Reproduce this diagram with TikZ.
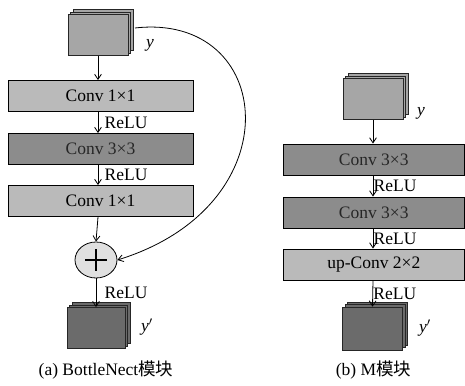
\documentclass[tikz,border=0pt]{standalone}
\usepackage{fontspec}
\setmainfont{Liberation Serif}
\newfontfamily\cjk{Noto Sans CJK SC}
\usepackage{tikz}
\usetikzlibrary{arrows.meta,positioning,shapes.geometric,shadows}

\begin{document}
\begin{tikzpicture}[
    x=1pt, y=-1pt,
    every node/.style={font=\fontsize{17.5}{20}\selectfont},
    lightbox/.style={rectangle, draw=black, line width=0.9pt, fill=black!27, minimum height=31pt, inner sep=0pt, align=center},
    darkbox/.style={rectangle, draw=black, line width=0.9pt, fill=black!45, minimum height=31pt, inner sep=0pt, align=center, text=black!85},
    fmap/.style={rectangle, draw=black!85, line width=0.8pt, inner sep=0pt, minimum width=60pt, minimum height=41pt,
        double copy shadow={shadow xshift=2.5pt, shadow yshift=2.5pt}},
    addop/.style={ellipse, draw=black, line width=0.8pt, fill=black!12, minimum width=42pt, minimum height=36pt, inner sep=0pt},
    arrow/.style={-{Straight Barb[length=1.8mm, width=2.4mm]}, line width=0.8pt}
]
\useasboundingbox (0,0) rectangle (465,385);

% (a) BottleNect
\node[fmap, fill=black!35] (yA) at (98, 35) {};
\node[lightbox, minimum width=185pt] (convA1) at (100.5, 96) {Conv 1×1};
\node[darkbox, minimum width=185pt] (convA2) at (100.5, 149) {Conv 3×3};
\node[lightbox, minimum width=185pt] (convA3) at (100.5, 201) {Conv 1×1};
\node[addop] (add) at (96, 260) {};
\node[fmap, fill=black!58, minimum width=58pt] (outA) at (96, 328) {};
\node (yAlab) at (150, 45) {\textit{y}};
\node (outAlab) at (147, 327) {\textit{y}$'$};
\node (capA) at (106, 370) {(a) BottleNect{\cjk 模块}};

\draw[line width=2.2pt] (add.center) ++(-11,0) -- ++(22,0);
\draw[line width=2.2pt] (add.center) ++(0,-11) -- ++(0,22);

\draw[arrow] (yA.south) -- (yA.south |- convA1.north);
\draw[arrow] (yA.south |- convA1.south) -- node[right, xshift=3pt] {ReLU} (yA.south |- convA2.north);
\draw[arrow] (yA.south |- convA2.south) -- node[right, xshift=3pt] {ReLU} (yA.south |- convA3.north);
\draw[arrow] (yA.south |- convA3.south) -- (add.north);
\draw[arrow] (add.south) -- node[right, xshift=5pt] {ReLU} (outA.north);
\draw[arrow] (135, 28) .. controls (275, 12) and (295, 205) .. (add.east);

% (b) M
\node[fmap, fill=black!35] (yB) at (373, 99) {};
\node[darkbox, minimum width=181.5pt] (convB1) at (373.75, 159.5) {Conv 3×3};
\node[darkbox, minimum width=181.5pt] (convB2) at (373.75, 212.5) {Conv 3×3};
\node[lightbox, minimum width=181.5pt] (convB3) at (373.75, 264.5) {up-Conv 2×2};
\node[fmap, fill=black!58, minimum height=43pt] (outB) at (372.5, 328.5) {};
\node (yBlab) at (421, 113) {\textit{y}};
\node (outBlab) at (425, 328) {\textit{y}$'$};
\node (capB) at (373.5, 370) {(b) M{\cjk 模块}};

\draw[arrow] (yB.south) -- (yB.south |- convB1.north);
\draw[arrow] (yB.south |- convB1.south) -- node[right, xshift=-3pt] {ReLU} (yB.south |- convB2.north);
\draw[arrow] (yB.south |- convB2.south) -- node[right, xshift=-3pt] {ReLU} (yB.south |- convB3.north);
\draw[arrow] (yB.south |- convB3.south) -- node[right, xshift=-3pt] {ReLU} (outB.north);

\end{tikzpicture}
\end{document}
